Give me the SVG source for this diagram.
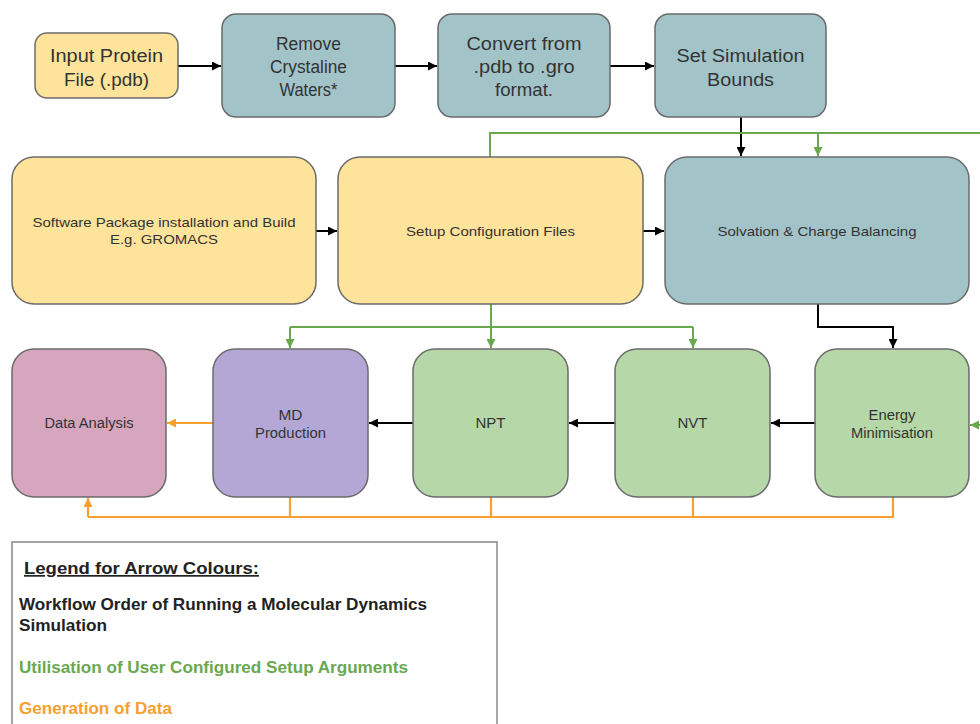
<svg xmlns="http://www.w3.org/2000/svg" width="980" height="724" viewBox="0 0 980 724">
<defs>
<marker id="ab" viewBox="0 0 10 10" refX="10" refY="5" markerWidth="10" markerHeight="9" orient="auto" markerUnits="userSpaceOnUse"><path d="M0,0 L10,5 L0,10 z" fill="#000"/></marker>
<marker id="ag" viewBox="0 0 10 10" refX="10" refY="5" markerWidth="10" markerHeight="9" orient="auto" markerUnits="userSpaceOnUse"><path d="M0,0 L10,5 L0,10 z" fill="#6aa84f"/></marker>
<marker id="ao" viewBox="0 0 10 10" refX="10" refY="5" markerWidth="10" markerHeight="9" orient="auto" markerUnits="userSpaceOnUse"><path d="M0,0 L10,5 L0,10 z" fill="#f6a030"/></marker>
</defs>
<style>
.n{stroke:#6b6b6b;stroke-width:1.5}
.y{fill:#fee39b}
.b{fill:#a2c4c9}
.g{fill:#b6d7a8}
.p{fill:#b4a7d6}
.r{fill:#d5a6bd}
text{font-family:"Liberation Sans",Arial,sans-serif;fill:#333;text-anchor:middle}
.t1{font-size:18px}
.t2{font-size:13.5px}
.t3{font-size:14px}
.k{fill:none;stroke:#000;stroke-width:2;marker-end:url(#ab)}
.gr{fill:none;stroke:#6aa84f;stroke-width:2}
.gra{fill:none;stroke:#6aa84f;stroke-width:2;marker-end:url(#ag)}
.or{fill:none;stroke:#f6a030;stroke-width:2.2}
.ora{fill:none;stroke:#f6a030;stroke-width:2.2;marker-end:url(#ao)}
.lg{font-size:16.5px;font-weight:bold;text-anchor:start}
</style>
<rect width="980" height="724" fill="#fff"/>
<g id="connectors">
<path class="k" d="M178,66 H221"/>
<path class="k" d="M395,66 H437"/>
<path class="k" d="M610,66 H654"/>
<path class="k" d="M741,117 V156"/>
<path class="gr" d="M490,157 V133 H980"/>
<path class="gra" d="M818,133 V156"/>
<path class="k" d="M316,231 H337"/>
<path class="k" d="M643,231 H664"/>
<path class="gr" d="M491,304 V327"/>
<path class="gr" d="M290,327 H693"/>
<path class="gra" d="M290,327 V348"/>
<path class="gra" d="M491,327 V348"/>
<path class="gra" d="M693,327 V348"/>
<path class="k" d="M818,304 V327 H893 V348"/>
<path class="k" d="M815,423 H771"/>
<path class="k" d="M615,423 H569"/>
<path class="k" d="M413,423 H369"/>
<path class="ora" d="M213,423 H167"/>
<path class="or" d="M290,497 V517 M491,497 V517 M693,497 V517 M893,497 V517 H88"/>
<path class="ora" d="M88,517 V498"/>
<path class="gra" d="M980,425 H970"/>
</g>
<g id="input"><rect class="n y" x="35" y="33" width="143" height="65" rx="12"/><text class="t1" x="106.5" y="62" textLength="113" lengthAdjust="spacingAndGlyphs">Input Protein</text><text class="t1" x="106.5" y="86" textLength="85" lengthAdjust="spacingAndGlyphs">File (.pdb)</text></g>
<g id="remove"><rect class="n b" x="222" y="14" width="173" height="103" rx="14"/><text class="t1" x="308.5" y="50" textLength="65" lengthAdjust="spacingAndGlyphs">Remove</text><text class="t1" x="308.5" y="73" textLength="77" lengthAdjust="spacingAndGlyphs">Crystaline</text><text class="t1" x="308.5" y="96" textLength="58" lengthAdjust="spacingAndGlyphs">Waters*</text></g>
<g id="convert"><rect class="n b" x="438" y="14" width="172" height="103" rx="14"/><text class="t1" x="524" y="50" textLength="115" lengthAdjust="spacingAndGlyphs">Convert from</text><text class="t1" x="524" y="73" textLength="101" lengthAdjust="spacingAndGlyphs">.pdb to .gro</text><text class="t1" x="524" y="96" textLength="58" lengthAdjust="spacingAndGlyphs">format.</text></g>
<g id="bounds"><rect class="n b" x="655" y="14" width="171" height="103" rx="14"/><text class="t1" x="740.5" y="62" textLength="128" lengthAdjust="spacingAndGlyphs">Set Simulation</text><text class="t1" x="740.5" y="86" textLength="67" lengthAdjust="spacingAndGlyphs">Bounds</text></g>
<g id="software"><rect class="n y" x="12" y="157" width="304" height="147" rx="22"/><text class="t2" x="164" y="227" textLength="263" lengthAdjust="spacingAndGlyphs">Software Package installation and Build</text><text class="t2" x="164" y="244" textLength="108" lengthAdjust="spacingAndGlyphs">E.g. GROMACS</text></g>
<g id="setup"><rect class="n y" x="338" y="157" width="305" height="147" rx="22"/><text class="t2" x="490.5" y="236" textLength="169" lengthAdjust="spacingAndGlyphs">Setup Configuration Files</text></g>
<g id="solvation"><rect class="n b" x="665" y="157" width="304" height="147" rx="22"/><text class="t2" x="817" y="236" textLength="199" lengthAdjust="spacingAndGlyphs">Solvation &amp; Charge Balancing</text></g>
<g id="analysis"><rect class="n r" x="12" y="349" width="154" height="148" rx="22"/><text class="t3" x="89" y="428" textLength="89" lengthAdjust="spacingAndGlyphs">Data Analysis</text></g>
<g id="md"><rect class="n p" x="213" y="349" width="155" height="148" rx="22"/><text class="t3" x="290.5" y="420" textLength="24" lengthAdjust="spacingAndGlyphs">MD</text><text class="t3" x="290.5" y="438" textLength="71" lengthAdjust="spacingAndGlyphs">Production</text></g>
<g id="npt"><rect class="n g" x="413" y="349" width="155" height="148" rx="22"/><text class="t3" x="490.5" y="428" textLength="30" lengthAdjust="spacingAndGlyphs">NPT</text></g>
<g id="nvt"><rect class="n g" x="615" y="349" width="155" height="148" rx="22"/><text class="t3" x="692.5" y="428" textLength="30" lengthAdjust="spacingAndGlyphs">NVT</text></g>
<g id="em"><rect class="n g" x="815" y="349" width="154" height="148" rx="22"/><text class="t3" x="892" y="420" textLength="47" lengthAdjust="spacingAndGlyphs">Energy</text><text class="t3" x="892" y="438" textLength="82" lengthAdjust="spacingAndGlyphs">Minimisation</text></g>
<g id="legend">
<rect x="12" y="542" width="485" height="190" fill="#fff" stroke="#888" stroke-width="1.5"/>
<text class="lg" x="24" y="574" textLength="235" lengthAdjust="spacingAndGlyphs" style="fill:#222;text-decoration:underline;font-size:17px">Legend for Arrow Colours:</text>
<text class="lg" x="19" y="610" textLength="408" lengthAdjust="spacingAndGlyphs" style="fill:#222">Workflow Order of Running a Molecular Dynamics</text>
<text class="lg" x="19" y="631" textLength="88" lengthAdjust="spacingAndGlyphs" style="fill:#222">Simulation</text>
<text class="lg" x="19" y="673" textLength="389" lengthAdjust="spacingAndGlyphs" style="fill:#6aa84f">Utilisation of User Configured Setup Arguments</text>
<text class="lg" x="19" y="714" textLength="153" lengthAdjust="spacingAndGlyphs" style="fill:#f6a030">Generation of Data</text>
</g>
</svg>
